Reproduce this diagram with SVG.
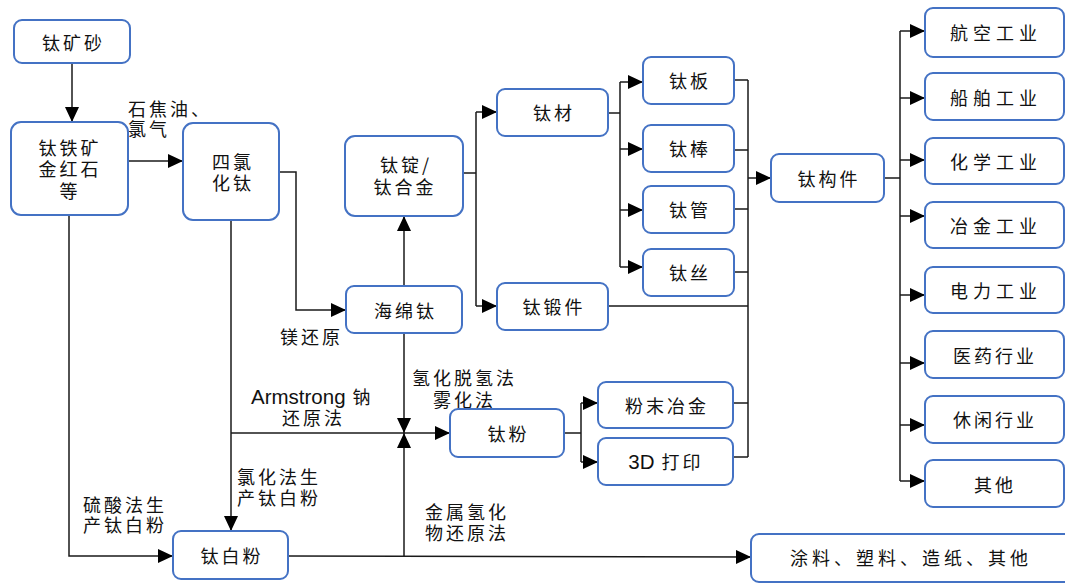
<svg xmlns="http://www.w3.org/2000/svg" width="1065" height="583" viewBox="0 0 1065 583">
<defs>
<style>
.box{fill:#fff;stroke:#4472C4;stroke-width:2}
.t{font-family:"Noto Sans CJK SC","Liberation Sans",sans-serif;font-size:18px;fill:#111;letter-spacing:3px;dominant-baseline:central}
.c{text-anchor:middle}
.w{letter-spacing:5px}
.lat{font-family:"Liberation Sans",Arial,sans-serif;font-size:20.5px;letter-spacing:0}
.ln{fill:none;stroke:#1a1a1a;stroke-width:1.5}
.ar{marker-end:url(#ah)}
</style>
<marker id="ah" viewBox="0 0 15 14" refX="15" refY="7" markerWidth="15" markerHeight="14" markerUnits="userSpaceOnUse" orient="auto">
<path d="M0,0 L15,7 L0,14 z" fill="#000"/>
</marker>
</defs>
<rect width="1065" height="583" fill="#fff"/>

<g id="connectors">
<path class="ln ar" d="M72,63 L72,122"/>
<path class="ln ar" d="M128,161 L183,161"/>
<path class="ln ar" d="M279,172 L296,172 L296,310 L346,310"/>
<path class="ln ar" d="M404,286 L404,216"/>
<path class="ln" d="M463,173 L476,173 M476,112 L476,306"/>
<path class="ln ar" d="M476,112 L497,112"/>
<path class="ln ar" d="M476,306 L497,306"/>
<path class="ln" d="M608,113 L620,113 M620,82 L620,267"/>
<path class="ln ar" d="M620,82 L643,82"/>
<path class="ln ar" d="M620,149 L643,149"/>
<path class="ln ar" d="M620,210 L643,210"/>
<path class="ln ar" d="M620,267 L643,267"/>
<path class="ln" d="M734,80 L748,80 M734,150 L748,150 M734,209 L748,209 M734,272 L748,272 M608,306 L748,306 M733,403 L748,403 M733,457 L748,457 M748,80 L748,457"/>
<path class="ln ar" d="M748,178 L771,178"/>
<path class="ln" d="M884,178 L900,178 M900,31 L900,481"/>
<path class="ln ar" d="M900,31 L925,31"/>
<path class="ln ar" d="M900,98 L925,98"/>
<path class="ln ar" d="M900,160 L925,160"/>
<path class="ln ar" d="M900,216 L925,216"/>
<path class="ln ar" d="M900,295 L925,295"/>
<path class="ln ar" d="M900,363 L925,363"/>
<path class="ln ar" d="M900,425 L925,425"/>
<path class="ln ar" d="M900,481 L925,481"/>
<path class="ln ar" d="M69,215 L69,556 L173,556"/>
<path class="ln ar" d="M231,220 L231,531"/>
<path class="ln ar" d="M231,433 L450,433"/>
<path class="ln ar" d="M404,333 L404,433"/>
<path class="ln ar" d="M404,556 L404,433"/>
<path class="ln ar" d="M288,556 L751,557"/>
<path class="ln" d="M564,433 L581,433 M581,403 L581,462"/>
<path class="ln ar" d="M581,403 L598,403"/>
<path class="ln ar" d="M581,462 L598,462"/>
</g>

<g id="labels">
<text class="t" x="128" y="108">石焦油、</text>
<text class="t" x="128" y="128">氯气</text>
<text class="t" x="280" y="336">镁还原</text>
<text class="t" x="251" y="396"><tspan class="lat">Armstrong</tspan> 钠</text>
<text class="t" x="282" y="417">还原法</text>
<text class="t" x="412" y="377">氢化脱氢法</text>
<text class="t" x="433" y="399">雾化法</text>
<text class="t" x="237" y="476">氯化法生</text>
<text class="t" x="237" y="497">产钛白粉</text>
<text class="t" x="425" y="511">金属氢化</text>
<text class="t" x="425" y="532">物还原法</text>
<text class="t" x="83" y="504">硫酸法生</text>
<text class="t" x="83" y="524">产钛白粉</text>
</g>

<g id="n-taikuangsha"><rect class="box" x="14" y="20" width="116" height="43" rx="8"/><text class="t c" x="73.5" y="42">钛矿砂</text></g>
<g id="n-taitiekuang"><rect class="box" x="11" y="122" width="117" height="93" rx="10"/><text class="t c" x="70" y="147">钛铁矿</text><text class="t c" x="70" y="168">金红石</text><text class="t c" x="70" y="190">等</text></g>
<g id="n-siluhuatai"><rect class="box" x="183" y="123" width="96" height="97" rx="10"/><text class="t c" x="233" y="161">四氯</text><text class="t c" x="233" y="182">化钛</text></g>
<g id="n-taiding"><rect class="box" x="345" y="136" width="118" height="80" rx="10"/><text class="t c" x="406" y="164">钛锭/</text><text class="t c" x="405" y="186">钛合金</text></g>
<g id="n-haimiantai"><rect class="box" x="346" y="286" width="116" height="47" rx="8"/><text class="t c" x="405.5" y="310">海绵钛</text></g>
<g id="n-taicai"><rect class="box" x="497" y="89" width="111" height="47" rx="8"/><text class="t c" x="554" y="112">钛材</text></g>
<g id="n-taiduanjian"><rect class="box" x="497" y="283" width="111" height="47" rx="8"/><text class="t c" x="554" y="306">钛锻件</text></g>
<g id="n-taiban"><rect class="box" x="643" y="57" width="91" height="47" rx="8"/><text class="t c" x="690" y="80">钛板</text></g>
<g id="n-taibang"><rect class="box" x="643" y="125" width="91" height="47" rx="8"/><text class="t c" x="690" y="148">钛棒</text></g>
<g id="n-taiguan"><rect class="box" x="643" y="186" width="91" height="47" rx="8"/><text class="t c" x="690" y="209">钛管</text></g>
<g id="n-taisi"><rect class="box" x="643" y="249" width="91" height="47" rx="8"/><text class="t c" x="690" y="272">钛丝</text></g>
<g id="n-taigoujian"><rect class="box" x="771" y="154" width="113" height="48" rx="8"/><text class="t c" x="829" y="178">钛构件</text></g>
<g id="n-hangkong"><rect class="box" x="925" y="8" width="139" height="49" rx="8"/><text class="t c w" x="996" y="32">航空工业</text></g>
<g id="n-chuanbo"><rect class="box" x="925" y="73" width="139" height="47" rx="8"/><text class="t c w" x="996" y="97">船舶工业</text></g>
<g id="n-huaxue"><rect class="box" x="925" y="138" width="139" height="46" rx="8"/><text class="t c w" x="996" y="161">化学工业</text></g>
<g id="n-yejin"><rect class="box" x="925" y="202" width="139" height="46" rx="8"/><text class="t c w" x="996" y="225">冶金工业</text></g>
<g id="n-dianli"><rect class="box" x="925" y="267" width="139" height="46" rx="8"/><text class="t c w" x="996" y="290">电力工业</text></g>
<g id="n-yiyao"><rect class="box" x="925" y="331" width="139" height="47" rx="8"/><text class="t c" x="995" y="355">医药行业</text></g>
<g id="n-xiuxian"><rect class="box" x="925" y="396" width="139" height="47" rx="8"/><text class="t c" x="995" y="419">休闲行业</text></g>
<g id="n-qita"><rect class="box" x="925" y="460" width="139" height="47" rx="8"/><text class="t c" x="995" y="484">其他</text></g>
<g id="n-taifen"><rect class="box" x="450" y="409" width="114" height="48" rx="8"/><text class="t c" x="508.5" y="433">钛粉</text></g>
<g id="n-fenmo"><rect class="box" x="598" y="382" width="135" height="46" rx="8"/><text class="t c" x="667" y="405">粉末冶金</text></g>
<g id="n-3d"><rect class="box" x="598" y="438" width="135" height="47" rx="8"/><text class="t c" x="666" y="461"><tspan class="lat">3D</tspan> 打印</text></g>
<g id="n-taibaifen"><rect class="box" x="173" y="531" width="115" height="48" rx="8"/><text class="t c" x="232" y="555">钛白粉</text></g>
<g id="n-tuliao"><rect class="box" x="751" y="534" width="322" height="48" rx="8"/><text class="t c" x="911" y="557" style="letter-spacing:4px">涂料、塑料、造纸、其他</text></g>
</svg>
